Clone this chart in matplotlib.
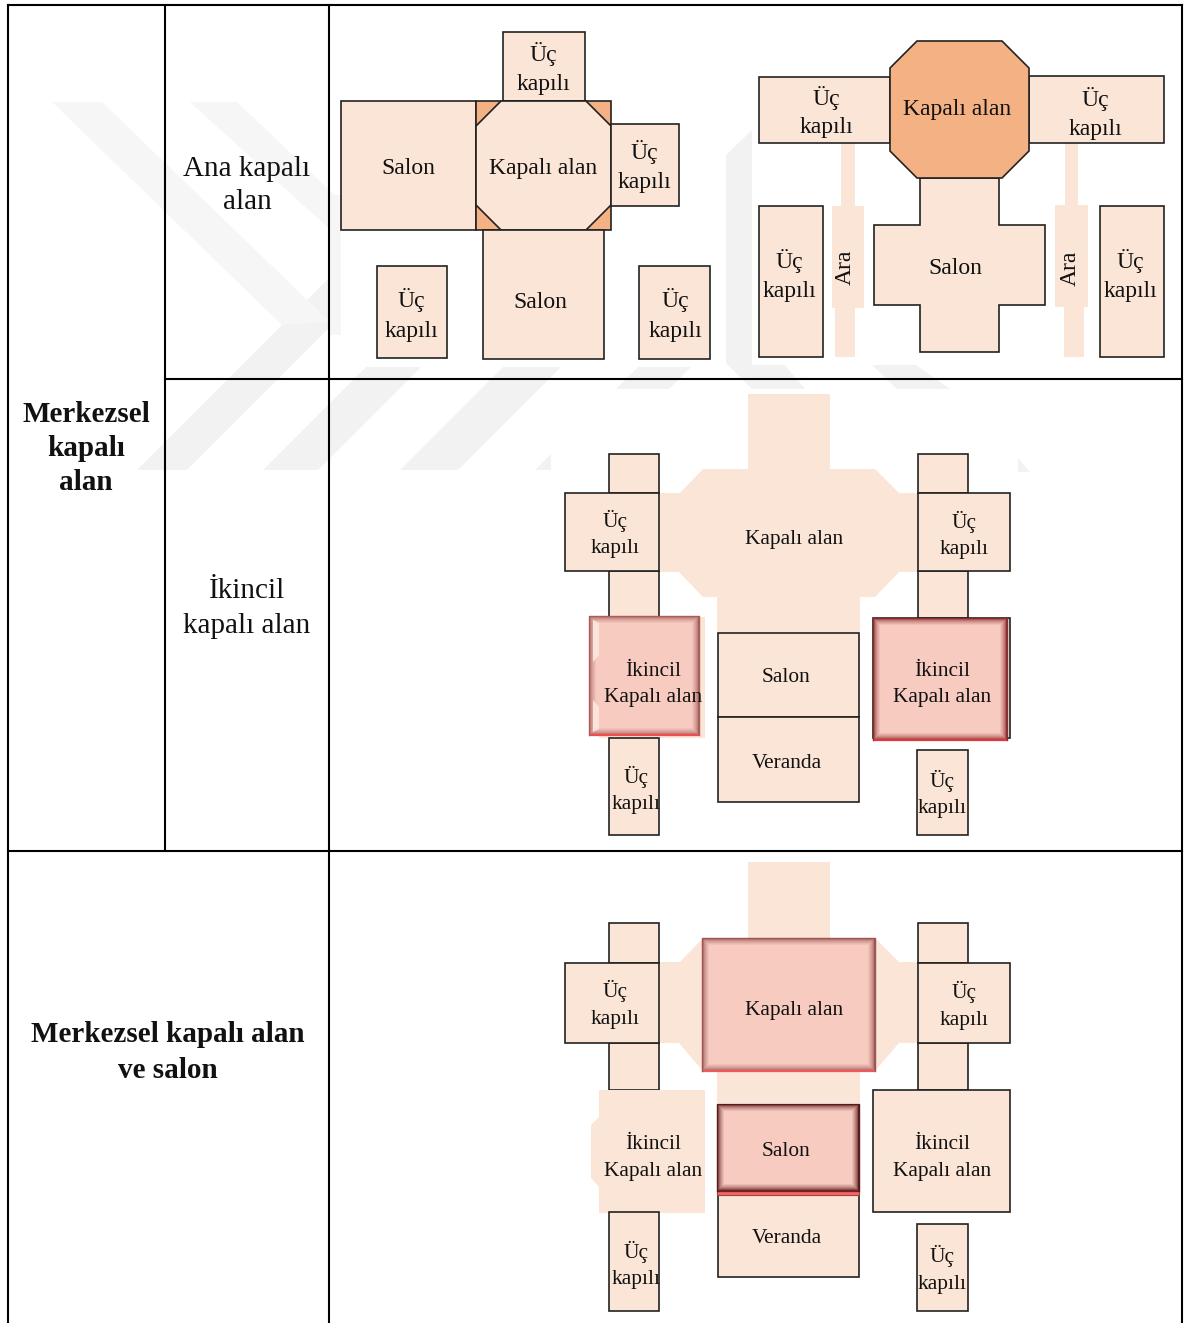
import matplotlib
matplotlib.use('Agg')
import numpy as np
import matplotlib.pyplot as plt
from matplotlib.patches import Polygon, Rectangle

plt.rcParams['font.family'] = ['Liberation Serif', 'DejaVu Serif']

peach = '#fbe5d6'
orange = '#f4b183'
pink = '#f8cbc1'
line = '#222222'
mark = '#f2f2f2'
mark_soft = '#f6f6f6'

# Labels used in the plans
uc = ['Üç', 'kapılı']
ikincil = ['İkincil', 'Kapalı alan']
kapali = 'Kapalı alan'
salon = 'Salon'
veranda = 'Veranda'
ara = 'Ara'

# Labels of the table cells
head_ana = ['Ana kapalı', 'alan']
head_ikincil = ['İkincil', 'kapalı alan']
head_merkez = ['Merkezsel', 'kapalı', 'alan']
head_salon = ['Merkezsel kapalı alan', 've salon']

fig = plt.figure(figsize=(11.84, 13.23), dpi=100)
ax = fig.add_axes([0, 0, 1, 1])
ax.set_xlim(0, 1184)
ax.set_ylim(1323, 0)
ax.axis('off')


def poly(pts, fc=peach, ec=line, z=2, lw=1.2):
    ax.add_patch(Polygon(pts, closed=True, fc=fc, ec=ec if ec else 'none', lw=lw if ec else 0, zorder=z))


def box(x0, y0, x1, y1, fc=peach, ec=line, z=2, lw=1.2):
    poly([(x0, y0), (x1, y0), (x1, y1), (x0, y1)], fc, ec, z, lw)


def octagon(x0, y0, x1, y1, cut, fc):
    poly([(x0 + cut, y0), (x1 - cut, y0), (x1, y0 + cut), (x1, y1 - cut),
          (x1 - cut, y1), (x0 + cut, y1), (x0, y1 - cut), (x0, y0 + cut)], fc)


def bevel(x0, y0, x1, y1, edge='#a85f5c', bottom='#ee4d50', z=4):
    # darker rim fading into the pink face
    rim = np.array(matplotlib.colors.to_rgb(edge))
    face = np.array(matplotlib.colors.to_rgb(pink))
    for i in range(8):
        c = rim + (face - rim) * (i / 7) ** 0.6
        box(x0 + i, y0 + i, x1 - i, y1 - i, fc=tuple(c), ec=None, z=z)
    ax.plot([x0, x1], [y1, y1], color=bottom, lw=1.6, zorder=z + 0.1, solid_capstyle='butt')
    ax.plot([x0, x0, x1, x1], [y1, y0, y0, y1], color=edge, lw=1.0, zorder=z + 0.1)


def write(x, y, words, size, lead=None, **kw):
    if isinstance(words, str):
        words = [words]
    lead = lead if lead is not None else size * 1.72
    for i, w in enumerate(words):
        ax.text(x, y + i * lead + size * 0.47, w, fontsize=size, ha='center', va='baseline',
                color='#111111', zorder=8, **kw)


# Faint watermark behind everything
for total in [(607, 657), (733, 788), (870, 928), (1005, 1058)]:
    top = 215
    poly([(total[0] - top, top), (total[1] - top, top), (total[1] - 470, 470), (total[0] - 470, 470)],
         fc=mark, ec=None, z=0)
poly([(52, 102), (102, 102), (330, 322), (282, 325)], fc=mark_soft, ec=None, z=0)
poly([(190, 102), (237, 102), (345, 205), (345, 243)], fc=mark_soft, ec=None, z=0)
poly([(330, 195), (341, 195), (341, 335), (330, 335)], fc=mark_soft, ec=None, z=0)
poly([(726, 155), (752, 130), (752, 389), (726, 363)], fc=mark, ec=None, z=0)
poly([(751, 363), (783, 363), (805, 389), (752, 389)], fc=mark, ec=None, z=0)
poly([(870, 363), (913, 363), (950, 389), (897, 389)], fc=mark, ec=None, z=0)
poly([(1018, 458), (1030, 472), (1018, 472)], fc=mark, ec=None, z=0)

# White backgrounds of the pasted plans
for x0, y0, x1, y1 in [(341, 8, 726, 367), (752, 8, 1180, 365), (551, 389, 1018, 472)]:
    box(x0, y0, x1, y1, fc='white', ec=None, z=1)

# Top row, left plan
box(503, 32, 585, 101)
box(341, 101, 476, 230)
box(476, 101, 611, 230, fc=orange)
octagon(476, 101, 611, 230, 25, peach)
box(611, 124, 679, 206)
box(483, 230, 604, 359)
box(377, 266, 447, 358)
box(639, 266, 710, 359)
write(543, 53, uc, 17, 29)
write(408, 166, salon, 17)
write(543, 166, kapali, 17)
write(644, 151, uc, 17, 29)
write(540, 300, salon, 17)
write(411, 299, uc, 17, 30)
write(675, 299, uc, 17, 30)

# Top row, right plan
box(841, 143, 855, 206, ec=None)
box(835, 300, 855, 357, ec=None)
box(832, 206, 864, 308, ec=None)
box(1065, 143, 1078, 205, ec=None)
box(1064, 300, 1084, 357, ec=None)
box(1055, 205, 1088, 307, ec=None)
box(759, 77, 890, 143)
box(1029, 76, 1164, 143)
poly([(920, 178), (999, 178), (999, 225), (1045, 225), (1045, 305), (999, 305), (999, 352),
      (920, 352), (920, 305), (874, 305), (874, 225), (920, 225)])
octagon(890, 41, 1029, 178, 27, orange)
box(759, 206, 823, 357)
box(1100, 206, 1164, 357)
write(826, 97, uc, 17, 28)
write(957, 107, kapali, 17)
write(1095, 98, uc, 17, 29)
write(789, 260, uc, 17, 29)
write(955, 266, salon, 17)
write(1130, 260, uc, 17, 29)
ax.text(845, 267, ara, fontsize=17, rotation=90, ha='center', va='center', color='#111111', zorder=8)
ax.text(1070, 268, ara, fontsize=17, rotation=90, ha='center', va='center', color='#111111', zorder=8)


def lower_plan(dy, y_stem, y_top, y_mid, y_low):
    # the cross shaped kapali alan with its stem and the salon neck behind it
    box(748, y_stem, 830, y_top + 2, ec=None)
    poly([(660, y_top + 24), (680, y_top + 24), (703, y_top), (875, y_top), (899, y_top + 24), (918, y_top + 24),
          (918, y_mid), (899, y_mid), (875, y_low), (860, y_low), (860, y_low + dy),
          (717, y_low + dy), (717, y_low), (703, y_low), (679, y_mid), (660, y_mid)], ec=None)


# Middle row
lower_plan(36, 394, 469, 572, 597)
box(609, 454, 659, 493)
box(609, 571, 659, 617)
box(565, 493, 659, 571)
box(918, 454, 968, 493)
box(918, 571, 968, 618)
box(918, 493, 1010, 571)
box(599, 617, 705, 738, ec=None)
bevel(589, 616, 699, 735)
poly([(593, 620), (599, 623), (599, 655), (593, 662)], fc='#fbe3dc', ec=None, z=4.2)
poly([(593, 700), (599, 707), (599, 729), (593, 732)], fc='#fbe3dc', ec=None, z=4.2)
box(609, 738, 659, 835)
box(718, 633, 859, 717)
box(718, 717, 859, 802)
box(873, 618, 1010, 738)
bevel(873, 618, 1007, 740, edge='#8a2f30', bottom='#e0363c')
box(917, 750, 968, 835)
write(615, 520, uc, 15.4, 26)
write(964, 521, uc, 15.4, 26)
write(794, 537, kapali, 15.4)
write(653, 669, ikincil, 15.4, 26)
write(942, 669, ikincil, 15.4, 26)
write(786, 675, salon, 15.4)
write(787, 761, veranda, 15.4)
write(636, 776, uc, 15.4, 26)
write(942, 780, uc, 15.4, 26)

# Bottom row
lower_plan(32, 862, 938, 1043, 1071)
box(609, 923, 659, 963)
box(609, 1043, 659, 1090)
box(565, 963, 659, 1043)
box(918, 923, 968, 963)
box(918, 1043, 968, 1090)
box(918, 963, 1010, 1043)
bevel(702, 938, 875, 1071, edge='#9c5553', bottom='#ee5a5c')
poly([(599, 1090), (705, 1090), (705, 1213), (599, 1213), (599, 1187), (591, 1178), (591, 1125), (599, 1117)], ec=None)
box(609, 1212, 659, 1311)
box(718, 1195, 859, 1277)
bevel(717, 1104, 859, 1191, edge='#5a1a1a', bottom='#7a2020')
box(717, 1191, 859, 1195, fc='#f2686a', ec='#a04040', z=4, lw=0.8)
box(873, 1090, 1010, 1212)
box(917, 1224, 968, 1311)
write(615, 990, uc, 15.4, 27)
write(964, 991, uc, 15.4, 27)
write(794, 1008, kapali, 15.4)
write(653, 1142, ikincil, 15.4, 27)
write(942, 1142, ikincil, 15.4, 27)
write(786, 1149, salon, 15.4)
write(787, 1236, veranda, 15.4)
write(636, 1251, uc, 15.4, 26)
write(942, 1255, uc, 15.4, 27)

# Table rules
rules = [([8, 8], [5, 1323]), ([165, 165], [5, 851]), ([329, 329], [5, 1323]), ([1182, 1182], [5, 1323]),
         ([8, 1182], [5, 5]), ([165, 1182], [379, 379]), ([8, 1182], [851, 851])]
for xs, ys in rules:
    ax.plot(xs, ys, color='black', lw=1.5, zorder=9, solid_capstyle='projecting')

write(247, 166, head_ana, 21, 33)
write(247, 588, head_ikincil, 21, 35)
write(86, 412, head_merkez, 21, 34, fontweight='bold')
write(168, 1032, head_salon, 21, 36, fontweight='bold')

fig.savefig('out.png', dpi=100)
